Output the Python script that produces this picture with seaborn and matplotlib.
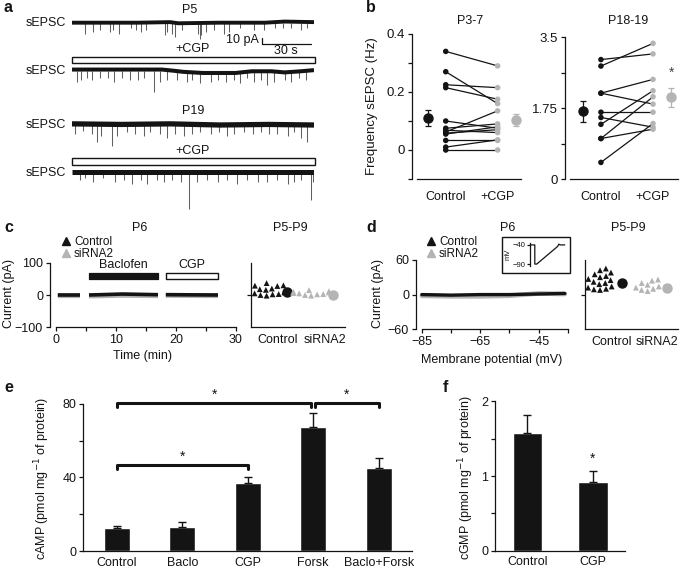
import matplotlib
matplotlib.use("Agg")
import numpy as np
import pandas as pd
import matplotlib.pyplot as plt
import seaborn as sns
from matplotlib.patches import Rectangle
from matplotlib.lines import Line2D

W, H = 685, 570
BLACK = "#141414"
GRAY = "#b4b4b4"
SPIKE = "#606060"

# panel a - sEPSC traces, events (time s, amplitude pA)
trace_len = 148
p5_ctrl_t = [8, 13, 17, 23, 25, 28.5, 36, 39, 42, 45, 57, 58, 61, 63, 67, 77, 78, 79, 82, 87,
             93, 96, 103, 111, 117.5, 124, 129, 134, 140, 144]
p5_ctrl_amp = [19, 16, 13, 16, 13, 19, 10, 13, 16, 12, 22, 16, 19, 25, 13, 19, 28, 22, 16, 13,
               19, 16, 10, 13, 13, 10, 10, 10, 12, 10]
p5_ctrl_base_t = [0, 40, 60, 65, 90, 118, 130, 148]
p5_ctrl_base = [0, 0, 1, -1, 0, 0, 2, 1]

p5_cgp_t = [3, 5.5, 9, 12, 17, 22, 25.5, 30.5, 35.5, 40.5, 44, 50, 54, 58, 64, 70.5, 73.5, 78.5,
            85, 89, 94, 99, 103, 107, 111.5, 115.5, 119.5, 123.5, 130, 134, 139, 143]
p5_cgp_amp = [19, 16, 13, 16, 13, 13, 19, 13, 16, 16, 13, 37, 19, 16, 16, 19, 16, 22, 19, 16,
              19, 16, 22, 13, 19, 16, 25, 19, 16, 19, 13, 16]
p5_cgp_base_t = [0, 55, 62, 68, 80, 100, 110, 122, 130, 140, 148]
p5_cgp_base = [2, 2, 0, -2, -4, -4, -1, -1, -3, -1, 1]

p19_ctrl_t = [2, 7, 12, 15, 18, 24.5, 27.5, 33.5, 38.5, 44, 48, 54, 58, 63, 68.5, 73.5, 78.5, 85,
              90, 95, 99, 105, 110.5, 115.5, 120.5, 125.5, 132, 136, 140, 144]
p19_ctrl_amp = [16, 10, 16, 30, 19, 36, 19, 13, 16, 19, 13, 16, 22, 16, 19, 16, 13, 16, 13, 19,
                16, 13, 16, 13, 16, 16, 19, 13, 22, 30]
p19_ctrl_base_t = [0, 30, 60, 90, 120, 148]
p19_ctrl_base = [2, 1, 2, 0, 1, 0]

p19_cgp_t = [5, 8, 13, 19, 26.5, 31.5, 36.5, 42, 46, 52, 56, 61, 66.5, 71.5, 76.5, 82.5, 89, 95,
             101, 107, 113.5, 119.5, 125.5, 132, 136, 140, 146, 147.5]
p19_cgp_amp = [13, 10, 16, 10, 16, 13, 19, 13, 19, 13, 16, 13, 16, 63, 16, 13, 16, 13, 19, 13,
               16, 16, 13, 19, 16, 13, 48, 16]
p19_cgp_base_t = [0, 148]
p19_cgp_base = [1, 1]

# panel b - sEPSC frequency (Hz), paired cells
young_ctrl = [0.34, 0.27, 0.225, 0.215, 0.10, 0.075, 0.068, 0.062, 0.058, 0.055, 0.033, 0.01, 0.0]
young_cgp = [0.29, 0.16, 0.215, 0.175, 0.075, 0.09, 0.06, 0.135, 0.07, 0.08, 0.033, 0.035, 0.0]
young_mean = [0.11, 0.103]
young_sem = [0.027, 0.02]
old_ctrl = [2.95, 2.79, 2.12, 2.12, 1.65, 1.52, 1.35, 1.0, 1.0, 0.41]
old_cgp = [3.09, 3.35, 2.46, 1.85, 1.65, 1.28, 2.18, 2.03, 1.23, 1.37]
old_mean = [1.67, 2.02]
old_sem = [0.26, 0.23]

# panel c - holding current (pA) vs time (min)
c_time = [0.3, 4.0, np.nan, 5.5, 11.0, 17.0, np.nan, 18.3, 27.0]
c_ctrl_i = [0, 0, np.nan, 0, 3, 1, np.nan, 1, 0]
c_sirna_i = [-2, -2, np.nan, -3, -1, -2, np.nan, -1, -2]
baclofen_win = (5.5, 17.0)
cgp_win = (18.3, 27.0)
c_ctrl_cells = [37, 31, 30, 29, 28, 20, 18, 16, 14, 12, 10, 8, 7, 5, 3, 2, 0, -2]
c_sirna_cells = [15, 12, 10, 8, 6, 5, 3, 2, 0, -2]
c_means = [10, 1]

# panel d - ramp current (pA) vs membrane potential (mV)
d_vm = [-85, -75, -65, -55, -45, -36]
d_ctrl_i = [0, -1, 0, 0, 1, 2]
d_sirna_i = [-2, -3, -3, -2, 2, 1]
d_ctrl_cells = [45, 42, 38, 35, 32, 30, 27, 25, 22, 20, 18, 16, 14, 12, 10, 9, 8]
d_sirna_cells = [26, 24, 20, 17, 14, 12, 10, 8, 6]
d_means = [20, 11.5]
d_sirna_sem = 5
ramp_t = [0, 1.5, 1.5, 2.3, 11, 11.5, 12, 14]
ramp_v = [-40, -40, -90, -90, -44, -38, -40, -40]

# panel e / f - cyclic nucleotides
camp_labels = ["Control", "Baclo", "CGP", "Forsk", "Baclo+Forsk"]
camp_mean = [12.7, 12.9, 37.0, 67.5, 45.0]
camp_sem = [1.0, 3.0, 3.4, 7.5, 5.7]
cgmp_labels = ["Control", "CGP"]
cgmp_mean = [1.58, 0.92]
cgmp_sem = [0.24, 0.15]


sns.set_theme(style="ticks")
plt.rcParams["font.family"] = ["Liberation Sans", "DejaVu Sans"]
plt.rcParams.update({
    "font.size": 9, "axes.labelsize": 9, "axes.linewidth": 0.9, "axes.edgecolor": BLACK,
    "xtick.major.width": 0.9, "ytick.major.width": 0.9,
    "xtick.major.size": 3, "ytick.major.size": 3,
    "xtick.labelsize": 9, "ytick.labelsize": 9,
    "xtick.color": BLACK, "ytick.color": BLACK, "text.color": BLACK,
    "axes.labelcolor": BLACK,
    "xtick.major.pad": 2, "ytick.major.pad": 2,
})

fig = plt.figure(figsize=(W / 100, H / 100), dpi=100)


def px_axes(x0, y0, x1, y1):
    return fig.add_axes([x0 / W, 1 - y1 / H, (x1 - x0) / W, (y1 - y0) / H])


def ftext(x, y, s, **kw):
    kw.setdefault("ha", "center")
    kw.setdefault("va", "center")
    fig.text(x / W, 1 - y / H, s, **kw)


def frect(x0, y0, x1, y1, **kw):
    fig.add_artist(Rectangle((x0 / W, 1 - y1 / H), (x1 - x0) / W, (y1 - y0) / H,
                             transform=fig.transFigure, **kw))


def letter(x, y, s):
    ftext(x, y, s, fontsize=11.5, fontweight="bold", ha="left")


# ---------------- a ----------------
PX_PER_PA = 0.57
traces = [
    (22.7, p5_ctrl_t, p5_ctrl_amp, p5_ctrl_base_t, p5_ctrl_base, 2.8),
    (70.7, p5_cgp_t, p5_cgp_amp, p5_cgp_base_t, p5_cgp_base, 2.9),
    (125.0, p19_ctrl_t, p19_ctrl_amp, p19_ctrl_base_t, p19_ctrl_base, 3.8),
    (172.7, p19_cgp_t, p19_cgp_amp, p19_cgp_base_t, p19_cgp_base, 3.6),
]
trace_axes = []
for base_y, ev_t, ev_a, bt, bv, lw in traces:
    ax = px_axes(72, base_y - 8, 314, base_y + 40)
    ax.set_xlim(0, trace_len)
    ax.set_ylim(-40 / PX_PER_PA, 8 / PX_PER_PA)
    ax.axis("off")
    ax.vlines(ev_t, 0, -np.array(ev_a), color=SPIKE, lw=0.75)
    ax.plot(bt, bv, color=BLACK, lw=lw, solid_capstyle="butt", solid_joinstyle="round")
    ftext(66, base_y, "sEPSC", ha="right")
    trace_axes.append(ax)

# scale bar
sb = trace_axes[0]
sb.plot([116, 116, 146], [-27.4, -37.4, -37.4], color=BLACK, lw=0.9, clip_on=False)
sb.text(114, -31, "10 pA", ha="right", va="center", fontsize=9)
sb.text(131, -39, "30 s", ha="center", va="top", fontsize=9)

ftext(190, 10, "P5")
ftext(193, 111, "P19")
ftext(193, 49.5, "+CGP")
ftext(193, 151.5, "+CGP")
frect(72, 56.7, 315, 63.3, fill=False, lw=1.0, ec=BLACK)
frect(72, 157.7, 315, 165, fill=False, lw=1.0, ec=BLACK)
letter(4, 8, "a")


# ---------------- b ----------------
def paired(ax, ctrl, cgp, mean, sem):
    n = len(ctrl)
    df = pd.DataFrame({"cell": list(range(n)) * 2,
                       "cond": [0] * n + [1] * n,
                       "freq": ctrl + cgp})
    sns.lineplot(data=df, x="cond", y="freq", units="cell", estimator=None,
                 color=BLACK, lw=0.9, ax=ax, legend=False)
    sns.scatterplot(data=df, x="cond", y="freq", hue="cond", palette={0: BLACK, 1: GRAY},
                    s=16, linewidth=0, legend=False, ax=ax, zorder=3, clip_on=False)
    ax.errorbar(-0.35, mean[0], yerr=sem[0], fmt="o", color=BLACK, ms=6.5,
                elinewidth=0.9, capsize=2.5, capthick=0.9, clip_on=False)
    ax.errorbar(1.35, mean[1], yerr=sem[1], fmt="o", color=GRAY, ms=6.5,
                elinewidth=0.9, capsize=2.5, capthick=0.9, clip_on=False)
    ax.set_xticks([0, 1])
    ax.set_xticklabels(["Control", "+CGP"])
    ax.tick_params(axis="x", length=0, pad=9)
    ax.tick_params(axis="y", labelsize=9.5)
    ax.set_xlabel("")
    ax.set_ylabel("")
    sns.despine(ax=ax)


axb1 = px_axes(412, 34, 521, 179)
paired(axb1, young_ctrl, young_cgp, young_mean, young_sem)
axb1.set_xlim(-0.65, 1.45)
axb1.set_ylim(-0.1, 0.4)
axb1.set_yticks([-0.1, 0, 0.1, 0.2, 0.3, 0.4])
axb1.set_yticklabels(["", "0", "", "0.2", "", "0.4"])
axb1.spines["bottom"].set_bounds(-0.55, 1.45)

axb2 = px_axes(565, 37.3, 678, 179)
paired(axb2, old_ctrl, old_cgp, old_mean, old_sem)
axb2.set_xlim(-0.69, 1.48)
axb2.set_ylim(0, 3.5)
axb2.set_yticks([0, 0.875, 1.75, 2.625, 3.5])
axb2.set_yticklabels(["0", "", "1.75", "", "3.5"])
axb2.spines["bottom"].set_bounds(-0.6, 1.48)
axb2.text(1.35, 2.62, "*", ha="center", va="center", fontsize=10, color="#444444")

ftext(372, 106, "Frequency sEPSC (Hz)", rotation=90, fontsize=9.5)
ftext(470, 21, "P3-7")
ftext(628, 21, "P18-19")
letter(366, 8, "b")


# ---------------- c / d helpers ----------------
def cell_scatter(ax, ctrl, sirna, means, xticks, sirna_sem=None):
    df = pd.DataFrame({"grp": [0] * len(ctrl) + [1] * len(sirna),
                       "val": ctrl + sirna})
    sns.swarmplot(data=df, x="grp", y="val", hue="grp", palette={0: BLACK, 1: GRAY},
                  native_scale=True, marker="^", size=4.2, linewidth=0, legend=False, ax=ax)
    ax.plot(xticks[0] + 0.22, means[0], "o", color=BLACK, ms=6.5, clip_on=False)
    if sirna_sem is None:
        ax.plot(xticks[1] + 0.2, means[1], "o", color=GRAY, ms=6.5, clip_on=False)
    else:
        ax.errorbar(xticks[1] + 0.2, means[1], yerr=sirna_sem, fmt="o", color=GRAY, ms=6.5,
                    elinewidth=0.9, capsize=2, clip_on=False)
    ax.set_xticks(xticks)
    ax.set_xticklabels(["Control", "siRNA2"])
    ax.tick_params(axis="x", length=0, pad=5)
    ax.set_xlabel("")
    ax.set_ylabel("")
    ax.set_yticks([0])
    ax.set_yticklabels([""])
    sns.despine(ax=ax)


legend_handles = [Line2D([], [], marker="^", ls="none", color=BLACK, ms=5.5),
                  Line2D([], [], marker="^", ls="none", color=GRAY, ms=5.5)]

# ---------------- c ----------------
axc = px_axes(50, 259.6, 236, 327.2)
axc.plot(c_time, c_sirna_i, color=GRAY, lw=3.6, solid_capstyle="butt")
axc.plot(c_time, c_ctrl_i, color=BLACK, lw=2.6, solid_capstyle="butt")
axc.broken_barh([(baclofen_win[0], baclofen_win[1] - baclofen_win[0])], (49, 19),
                facecolor=BLACK, edgecolor=BLACK, lw=0.9)
axc.broken_barh([(cgp_win[0], cgp_win[1] - cgp_win[0])], (49, 19),
                facecolor="white", edgecolor=BLACK, lw=1.0)
axc.text(sum(baclofen_win) / 2, 74, "Baclofen", ha="center", va="bottom", fontsize=9)
axc.text(sum(cgp_win) / 2, 74, "CGP", ha="center", va="bottom", fontsize=9)
axc.set_xlim(-1, 30)
axc.set_ylim(-100, 110)
axc.set_xticks([0, 5, 10, 15, 20, 25, 30])
axc.set_xticklabels(["0", "", "10", "", "20", "", "30"])
axc.set_yticks([-100, 0, 100])
axc.set_yticklabels(["\u2212100", "0", "100"])
sns.despine(ax=axc)
axc.spines["left"].set_bounds(-100, 100)
axc.spines["bottom"].set_bounds(0, 30)
axc.set_xlabel("Time (min)", labelpad=3)
ftext(9, 294, "Current (pA)", rotation=90)

axc2 = px_axes(251, 259.6, 345, 327.2)
cell_scatter(axc2, c_ctrl_cells, c_sirna_cells, c_means, [0.24, 1.3])
axc2.set_xlim(-0.35, 1.76)
axc2.set_ylim(-100, 110)
axc2.spines["left"].set_bounds(-100, 100)

fig.legend(legend_handles, ["Control", "siRNA2"], loc="upper left",
           bbox_to_anchor=(55 / W, 1 - 230 / H), frameon=False, handlelength=0.9,
           handletextpad=0.2, labelspacing=0.05, borderpad=0, fontsize=8.5)
ftext(140, 228, "P6")
ftext(290, 228, "P5-P9")
letter(4, 228, "c")

# ---------------- d ----------------
axd = px_axes(416, 236.7, 567.7, 329.3)
axd.plot(d_vm, d_sirna_i, color=GRAY, lw=3.4)
axd.plot(d_vm, d_ctrl_i, color=BLACK, lw=2.4)
axd.set_xlim(-87, -35)
axd.set_ylim(-60, 100)
axd.set_xticks([-85, -75, -65, -55, -45, -35])
axd.set_xticklabels(["\u221285", "", "\u221265", "", "\u221245", ""])
axd.set_yticks([-60, 0, 60])
axd.set_yticklabels(["\u221260", "0", "60"])
sns.despine(ax=axd)
axd.spines["left"].set_bounds(-60, 60)
axd.spines["bottom"].set_bounds(-85, -35)
axd.set_xlabel("Membrane potential (mV)", labelpad=4)
ftext(378, 294, "Current (pA)", rotation=90)

# voltage protocol inset
frect(502, 236.7, 570, 273.3, fill=False, lw=1.0, ec=BLACK)
axi = px_axes(530, 243, 566, 266)
axi.plot(ramp_t, ramp_v, color=BLACK, lw=0.9)
axi.set_xlim(-0.5, 14.5)
axi.set_ylim(-95, -35)
axi.set_xticks([])
axi.set_yticks([-90, -40])
axi.set_yticklabels(["\u221290", "\u221240"], fontsize=5.5)
axi.tick_params(axis="y", length=2, pad=1)
axi.set_ylabel("mV", fontsize=5.5, labelpad=1)
sns.despine(ax=axi, bottom=True)
axi.patch.set_alpha(0)

axd2 = px_axes(585, 236.7, 678, 329.3)
cell_scatter(axd2, d_ctrl_cells, d_sirna_cells, d_means, [0.25, 1.2], sirna_sem=d_sirna_sem)
axd2.set_xlim(-0.316, 1.64)
axd2.set_ylim(-60, 100)
axd2.spines["left"].set_bounds(-60, 60)

fig.legend(legend_handles, ["Control", "siRNA2"], loc="upper left",
           bbox_to_anchor=(420 / W, 1 - 230 / H), frameon=False, handlelength=0.9,
           handletextpad=0.2, labelspacing=0.05, borderpad=0, fontsize=8.5)
ftext(508, 228, "P6")
ftext(628, 228, "P5-P9")
letter(366, 228, "d")


# ---------------- e ----------------
def bar_panel(ax, labels, mean, sem, width):
    df = pd.DataFrame({"cond": labels, "val": mean})
    sns.barplot(data=df, x="cond", y="val", color=BLACK, saturation=1, width=width,
                ax=ax, errorbar=None)
    ax.errorbar(range(len(mean)), mean, yerr=[np.zeros(len(sem)), sem], fmt="none",
                ecolor=BLACK, elinewidth=1.0, capsize=3, capthick=1.0)
    ax.set_xlabel("")
    ax.set_ylabel("")
    ax.tick_params(axis="x", length=0, pad=4)
    sns.despine(ax=ax)


axe = px_axes(83.3, 385.4, 412, 551)
bar_panel(axe, camp_labels, camp_mean, camp_sem, 0.4)
axe.set_xlim(-0.515, 4.51)
axe.set_ylim(0, 90)
axe.set_yticks([0, 20, 40, 60, 80])
axe.set_yticklabels(["0", "", "40", "", "80"])
axe.spines["left"].set_bounds(0, 80)

brackets = [(0, 2, 46.5), (0, 2.97, 80.5), (3.03, 4, 80.5)]
for x0, x1, y in brackets:
    axe.plot([x0, x0, x1, x1], [y - 2, y, y, y - 2], color=BLACK, lw=2.2, clip_on=False)
    axe.text((x0 + x1) / 2, y + 4.5, "*", ha="center", va="center", fontsize=10)

ftext(42, 478, "cAMP (pmol mg$^{-1}$ of protein)", rotation=90, fontsize=9)
letter(4, 388, "e")

# ---------------- f ----------------
axf = px_axes(495, 397.6, 625, 550.7)
bar_panel(axf, cgmp_labels, cgmp_mean, cgmp_sem, 0.45)
axf.set_xlim(-0.496, 1.49)
axf.set_ylim(0, 2.05)
axf.set_yticks([0, 0.5, 1, 1.5, 2])
axf.set_yticklabels(["0", "", "1", "", "2"])
axf.spines["left"].set_bounds(0, 2)
axf.text(1, 1.23, "*", ha="center", va="center", fontsize=10)

ftext(466, 478, "cGMP (pmol mg$^{-1}$ of protein)", rotation=90, fontsize=9)
letter(443, 388, "f")

fig.savefig("out.png", dpi=100)
